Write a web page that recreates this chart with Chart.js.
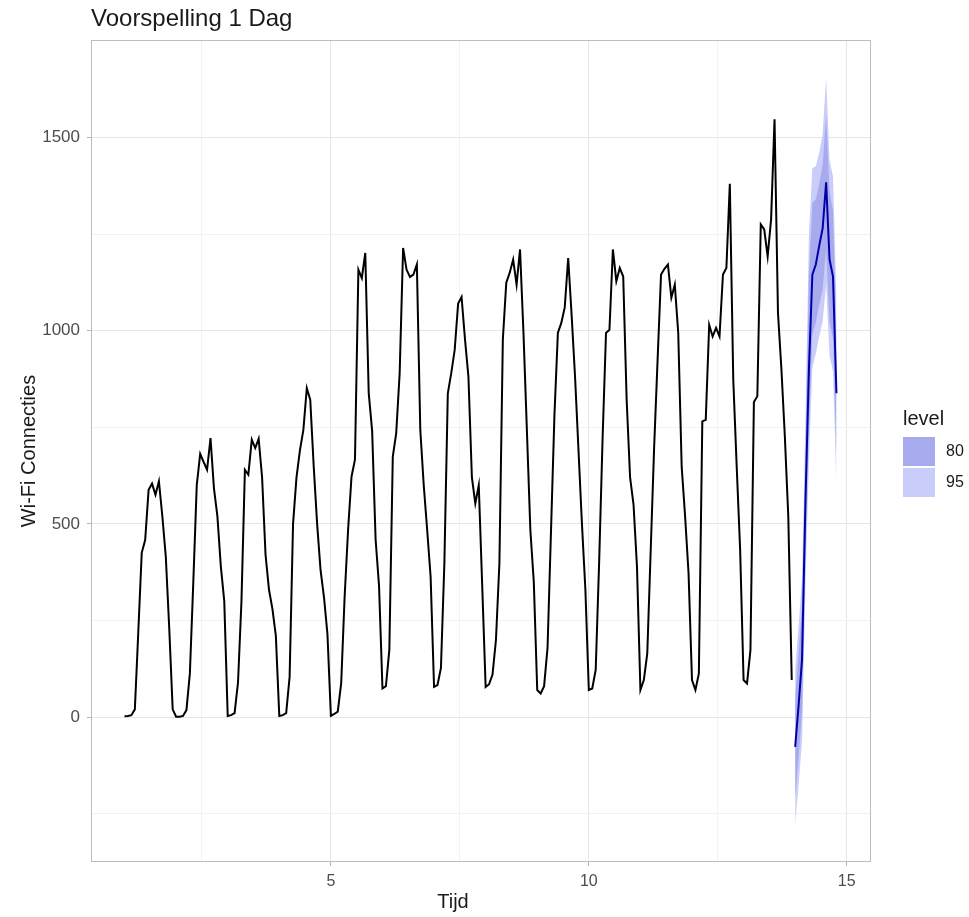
<!DOCTYPE html>
<html>
<head>
<meta charset="utf-8">
<script src="https://cdn.jsdelivr.net/npm/chart.js@4.4.0/dist/chart.umd.min.js"></script>
<style>
  html, body { margin: 0; padding: 0; background: #fff; }
</style>
</head>
<body>
<canvas id="chart" width="969" height="917"></canvas>
<script>
// titels
var title = 'Voorspelling 1 Dag';
var xTitle = 'Tijd';
var yTitle = 'Wi-Fi Connecties';

// tijdreeks: 15 waarnemingen per dag, start op dag 1
var startDay = 1;
var perDay = 15;

// waarnemingen per dag
var day1  = [2, 3, 5, 20, 220, 425, 458, 588, 604, 575, 610, 519, 415, 230, 20];
var day2  = [1, 1, 3, 18, 113, 350, 600, 681, 660, 640, 722, 592, 520, 390, 300];
var day3  = [3, 5, 10, 90, 300, 640, 627, 718, 696, 720, 620, 420, 330, 280, 210];
var day4  = [3, 5, 10, 104, 500, 620, 690, 743, 851, 821, 650, 500, 380, 310, 215];
var day5  = [3, 8, 14, 88, 312, 484, 622, 666, 1158, 1136, 1201, 839, 740, 460, 340];
var day6  = [74, 80, 174, 674, 735, 890, 1214, 1158, 1139, 1145, 1171, 743, 600, 484, 363];
var day7  = [78, 83, 127, 398, 838, 890, 950, 1070, 1087, 977, 880, 620, 553, 600, 340];
var day8  = [78, 85, 110, 200, 398, 977, 1124, 1150, 1184, 1119, 1210, 994, 740, 484, 350];
var day9  = [70, 61, 80, 180, 480, 780, 994, 1020, 1060, 1188, 1040, 880, 690, 500, 330];
var day10 = [70, 74, 122, 400, 720, 994, 1002, 1210, 1128, 1162, 1140, 821, 620, 550, 390];
var day11 = [70, 96, 165, 433, 700, 925, 1145, 1160, 1171, 1085, 1119, 994, 648, 519, 372];
var day12 = [96, 70, 113, 765, 769, 1015, 985, 1007, 985, 1145, 1162, 1380, 873, 648, 433];
var day13 = [96, 87, 174, 815, 830, 1275, 1262, 1192, 1288, 1547, 1046, 900, 726, 519, 96];

// voorspelling (1 dag) met 80% en 95% intervallen
var forecast = [-77, 30, 150, 560, 900, 1145, 1171, 1220, 1265, 1384, 1184, 1140, 838];
var lo80 = [-208, -104, 13, 420, 740, 990, 1021, 1067, 1108, 1211, 1021, 980, 680];
var hi80 = [54, 164, 287, 700, 1140, 1330, 1340, 1380, 1430, 1557, 1360, 1310, 996];
var lo95 = [-277, -175, -60, 345, 660, 905, 941, 985, 1025, 1119, 934, 895, 596];
var hi95 = [123, 235, 360, 775, 1250, 1420, 1425, 1460, 1510, 1655, 1440, 1400, 1080];

// assen
var xMajor = [5, 10, 15];
var xMinor = [2.5, 7.5, 12.5];
var yMajor = [0, 500, 1000, 1500];
var yMinor = [-250, 250, 750, 1250];
var levels = ['80', '95'];

var col80 = '#a7abee';
var col95 = '#c9cdfa';
var fcColor = '#0000aa';
var font = '"Liberation Sans", Arial, Helvetica, sans-serif';

var observed = [].concat(day1, day2, day3, day4, day5, day6, day7, day8, day9, day10, day11, day12, day13);
var fcStart = startDay + observed.length / perDay;

function toPoints(values, t0){
  return values.map(function(v, i){
    return {x: t0 + i / perDay, y: v};
  });
}

function band(values, color, fill){
  return {
    data: toPoints(values, fcStart),
    borderWidth: 0,
    pointRadius: 0,
    backgroundColor: color,
    fill: fill
  };
}

// rand, titels en legenda
var decor = {
  id: 'decor',
  afterDraw: function(chart){
    var ctx = chart.ctx;
    var a = chart.chartArea;
    ctx.save();
    ctx.strokeStyle = '#bdbdbd';
    ctx.lineWidth = 1;
    ctx.strokeRect(a.left + 0.5, a.top + 0.5, a.right - a.left - 1, a.bottom - a.top - 1);

    ctx.fillStyle = '#1a1a1a';
    ctx.textAlign = 'left';
    ctx.textBaseline = 'alphabetic';
    ctx.font = '24px ' + font;
    ctx.fillText(title, a.left, 26);

    ctx.font = '20px ' + font;
    ctx.textAlign = 'center';
    ctx.fillText(xTitle, 453, 908);

    ctx.save();
    ctx.translate(35, (a.top + a.bottom) / 2);
    ctx.rotate(-Math.PI / 2);
    ctx.fillText(yTitle, 0, 0);
    ctx.restore();

    // legenda
    ctx.textAlign = 'left';
    ctx.fillText('level', 903, 425);
    var colors = [col80, col95];
    ctx.font = '16px ' + font;
    ctx.textBaseline = 'middle';
    levels.forEach(function(l, i){
      var y = 437 + i * 31;
      ctx.fillStyle = colors[i];
      ctx.fillRect(903, y, 32, 29);
      ctx.fillStyle = '#1a1a1a';
      ctx.fillText(l, 946, y + 15);
    });
    ctx.restore();
  }
};

new Chart(document.getElementById('chart'), {
  type: 'line',
  data: {
    datasets: [
      {
        data: toPoints(observed, startDay),
        borderColor: '#000000',
        borderWidth: 2,
        pointRadius: 0,
        fill: false
      },
      {
        data: toPoints(forecast, fcStart),
        borderColor: fcColor,
        borderWidth: 2,
        pointRadius: 0,
        fill: false
      },
      band(hi80, col80, '+1'),
      band(lo80, col80, false),
      band(hi95, col95, '+1'),
      band(lo95, col95, false)
    ]
  },
  options: {
    responsive: false,
    animation: false,
    layout: { padding: { top: 40, right: 98, left: 0, bottom: 0 } },
    plugins: {
      legend: { display: false },
      title: { display: false },
      tooltip: { enabled: false }
    },
    elements: { line: { tension: 0 } },
    scales: {
      x: {
        type: 'linear',
        min: 0.35,
        max: 15.47,
        afterBuildTicks: function(scale){
          scale.ticks = xMinor.concat(xMajor).sort(function(a, b){ return a - b; })
            .map(function(v){ return {value: v}; });
        },
        afterFit: function(scale){ scale.height = 55; },
        border: { display: false },
        grid: {
          color: function(c){ return xMajor.indexOf(c.tick.value) >= 0 ? '#e6e6e6' : '#f2f2f2'; },
          tickColor: function(c){ return xMajor.indexOf(c.tick.value) >= 0 ? '#b3b3b3' : 'rgba(0,0,0,0)'; },
          tickLength: 4
        },
        ticks: {
          autoSkip: false,
          maxRotation: 0,
          padding: 6,
          color: '#4d4d4d',
          font: { size: 16, family: font },
          callback: function(v){ return xMajor.indexOf(v) >= 0 ? String(v) : ''; }
        }
      },
      y: {
        min: -375,
        max: 1752,
        afterBuildTicks: function(scale){
          scale.ticks = yMinor.concat(yMajor).sort(function(a, b){ return a - b; })
            .map(function(v){ return {value: v}; });
        },
        afterFit: function(scale){ scale.width = 91; },
        border: { display: false },
        grid: {
          color: function(c){ return yMajor.indexOf(c.tick.value) >= 0 ? '#e6e6e6' : '#f2f2f2'; },
          tickColor: function(c){ return yMajor.indexOf(c.tick.value) >= 0 ? '#b3b3b3' : 'rgba(0,0,0,0)'; },
          tickLength: 4
        },
        ticks: {
          autoSkip: false,
          padding: 7,
          color: '#4d4d4d',
          font: { size: 17, family: font },
          callback: function(v){ return yMajor.indexOf(v) >= 0 ? String(v) : ''; }
        }
      }
    }
  },
  plugins: [decor]
});
</script>
</body>
</html>
